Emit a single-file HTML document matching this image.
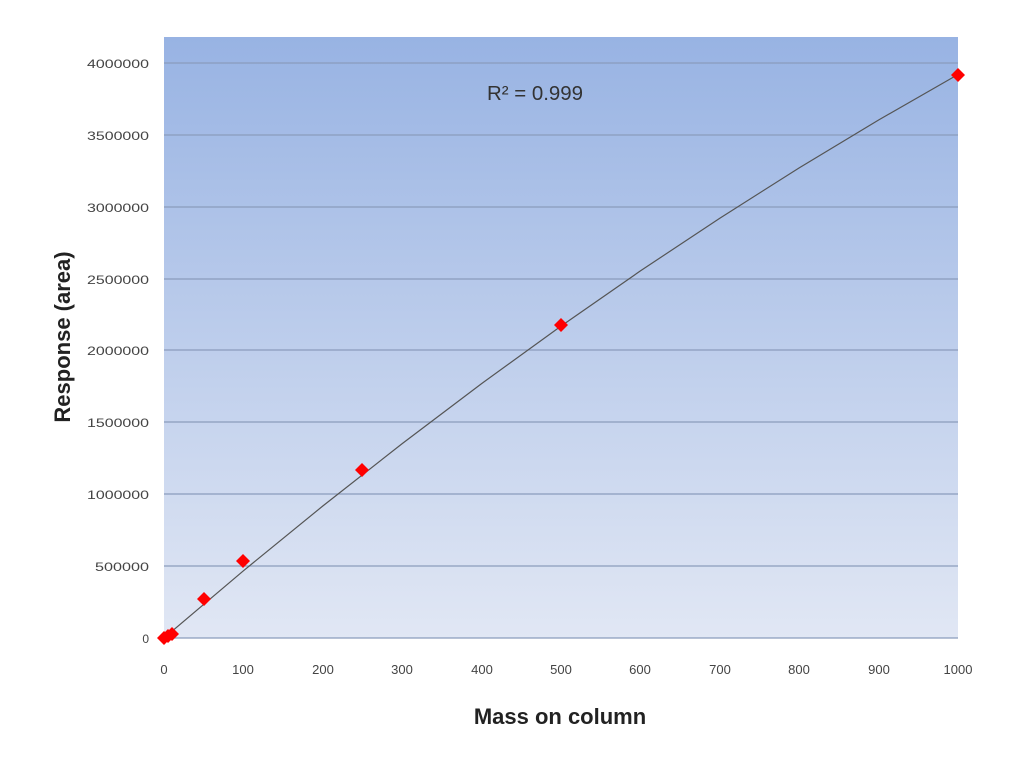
<!DOCTYPE html>
<html><head><meta charset="utf-8"><style>
html,body{margin:0;padding:0;background:#fff;}
svg{display:block;}
text{font-family:"Liberation Sans",sans-serif;}
</style></head><body>
<svg width="1010" height="762" viewBox="0 0 1010 762" xmlns="http://www.w3.org/2000/svg">
<defs>
<linearGradient id="g" x1="0" y1="0" x2="0" y2="1">
<stop offset="0" stop-color="#98b3e3"/>
<stop offset="1" stop-color="#e1e7f4"/>
</linearGradient>
</defs>
<rect x="164" y="37" width="794" height="601" fill="url(#g)"/>
<g stroke="#8a9cbc" stroke-width="1.2">
<line x1="164" x2="958" y1="63" y2="63"/>
<line x1="164" x2="958" y1="135" y2="135"/>
<line x1="164" x2="958" y1="207" y2="207"/>
<line x1="164" x2="958" y1="279" y2="279"/>
<line x1="164" x2="958" y1="350" y2="350"/>
<line x1="164" x2="958" y1="422" y2="422"/>
<line x1="164" x2="958" y1="494" y2="494"/>
<line x1="164" x2="958" y1="566" y2="566"/>
<line x1="164" x2="958" y1="638" y2="638"/>
</g>
<g font-size="12" fill="#444" text-anchor="end">
<text x="149" y="68" textLength="62" lengthAdjust="spacingAndGlyphs">4000000</text>
<text x="149" y="140" textLength="62" lengthAdjust="spacingAndGlyphs">3500000</text>
<text x="149" y="212" textLength="62" lengthAdjust="spacingAndGlyphs">3000000</text>
<text x="149" y="284" textLength="62" lengthAdjust="spacingAndGlyphs">2500000</text>
<text x="149" y="355" textLength="62" lengthAdjust="spacingAndGlyphs">2000000</text>
<text x="149" y="427" textLength="62" lengthAdjust="spacingAndGlyphs">1500000</text>
<text x="149" y="499" textLength="62" lengthAdjust="spacingAndGlyphs">1000000</text>
<text x="149" y="571" textLength="54" lengthAdjust="spacingAndGlyphs">500000</text>
<text x="149" y="643">0</text>
</g>
<g font-size="13" fill="#444" text-anchor="middle">
<text x="164" y="674">0</text>
<text x="243" y="674">100</text>
<text x="323" y="674">200</text>
<text x="402" y="674">300</text>
<text x="482" y="674">400</text>
<text x="561" y="674">500</text>
<text x="640" y="674">600</text>
<text x="720" y="674">700</text>
<text x="799" y="674">800</text>
<text x="879" y="674">900</text>
<text x="958" y="674">1000</text>
</g>
<polyline fill="none" stroke="#555" stroke-width="1.2" points="164,638 243.4,570.8 322.8,506 402.2,443.6 481.6,383.6 561,326.1 640.4,270.9 719.8,218.2 799.2,167.9 878.6,120 958,74.5"/>
<g fill="#f00">
<path d="M164,631 l7,7 l-7,7 l-7,-7z"/>
<path d="M168,629 l7,7 l-7,7 l-7,-7z"/>
<path d="M172,627 l7,7 l-7,7 l-7,-7z"/>
<path d="M204,592 l7,7 l-7,7 l-7,-7z"/>
<path d="M243,554 l7,7 l-7,7 l-7,-7z"/>
<path d="M362,463 l7,7 l-7,7 l-7,-7z"/>
<path d="M561,318 l7,7 l-7,7 l-7,-7z"/>
<path d="M958,68 l7,7 l-7,7 l-7,-7z"/>
</g>
<text x="487" y="100" font-size="20" fill="#333" textLength="96" lengthAdjust="spacingAndGlyphs">R² = 0.999</text>
<text x="560" y="724" font-size="22" font-weight="bold" fill="#222" text-anchor="middle">Mass on column</text>
<text transform="translate(70,337) rotate(-90)" font-size="22" font-weight="bold" fill="#222" text-anchor="middle">Response (area)</text>
</svg>
</body></html>
